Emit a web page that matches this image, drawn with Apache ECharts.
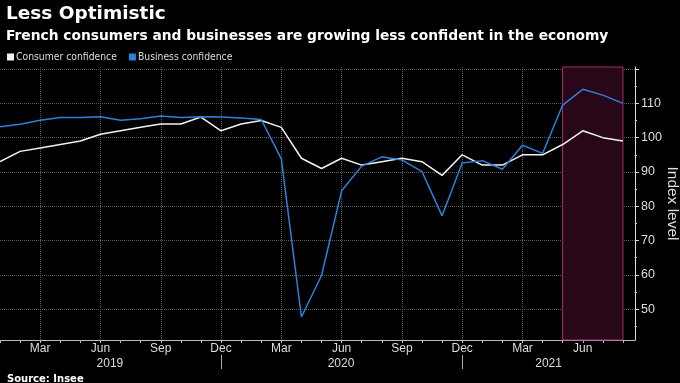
<!DOCTYPE html>
<html>
<head>
<meta charset="utf-8">
<script src="https://cdn.jsdelivr.net/npm/echarts@6/dist/echarts.min.js"></script>
<style>
html,body{margin:0;padding:0;background:#000;}
#chart{width:680px;height:383px;}
</style>
</head>
<body>
<div id="chart"></div>
<script>
// Monthly observations, Jan 2019 .. Aug 2021
var months = ['2019-01','2019-02','2019-03','2019-04','2019-05','2019-06','2019-07','2019-08','2019-09','2019-10','2019-11','2019-12',
              '2020-01','2020-02','2020-03','2020-04','2020-05','2020-06','2020-07','2020-08','2020-09','2020-10','2020-11','2020-12',
              '2021-01','2021-02','2021-03','2021-04','2021-05','2021-06','2021-07','2021-08'];
var consumer = [93,96,97,98,99,101,102,103,104,104,106,102,
                104,105,103,94,91,94,92,93,94,93,89,95,
                92,92,95,95,98,102,100,99];
var business = [103.2,103.9,105.1,105.9,105.9,106.1,105.1,105.5,106.3,105.9,106.1,106.0,
                105.7,105.3,93.8,47.7,59.8,84.5,91.7,94.4,93.5,90.1,77.2,92.6,
                93.3,90.8,97.8,95.4,109.5,114.1,112.4,110.0];
var seriesNames = ['Consumer confidence','Business confidence'];
var highlight = ['2021-05','2021-08'];
var monthNames = ['Jan','Feb','Mar','Apr','May','Jun','Jul','Aug','Sep','Oct','Nov','Dec'];
var quarterMonths = ['Mar','Jun','Sep','Dec'];
var yearLabels = ['2019','2020','2021'];
var yearLabelPos = [5.47, 16.97, 27.3];   // centre of each year's span (month index)
var yearBreaks = ['2019-12','2020-12'];
var yLabelTicks = [50,60,70,80,90,100,110];
var yMajorTicks = [50,60,70,80,90,100,110,120];
var yMinorTicks = [45,55,65,75,85,95,105,115];

function idx(m){ return months.indexOf(m); }
var allIdx = months.map(function(m,i){return i;});
var quarterIdx = allIdx.filter(function(i){ return quarterMonths.indexOf(monthNames[+months[i].slice(5)-1]) >= 0; });
var consumerData = consumer.map(function(v,i){return [i,v];});
var businessData = business.map(function(v,i){return [i,v];});

var FONT = 'Liberation Sans';
var NARROW = "'DejaVu Sans Condensed', 'Liberation Sans'";
var X_MIN = 0, X_MAX = 31.6, Y_MIN = 41, Y_MAX = 120.6;

var chart = echarts.init(document.getElementById('chart'));
chart.setOption({
  backgroundColor: '#000',
  animation: false,
  title: [
    {text: 'Less Optimistic', left: 1, top: 0,
     textStyle: {color: '#fff', fontSize: 18.5, fontWeight: 'bold', fontFamily: 'DejaVu Sans'}},
    {text: 'French consumers and businesses are growing less confident in the economy', left: 1, top: 24,
     textStyle: {color: '#fff', fontSize: 13.8, fontWeight: 'bold', fontFamily: 'DejaVu Sans'}},
    {text: 'Source: Insee', left: 2, top: 369,
     textStyle: {color: '#fff', fontSize: 10, fontWeight: 'bold', fontFamily: 'DejaVu Sans'}}
  ],
  legend: {
    left: 2, top: 47, itemWidth: 7, itemHeight: 7, itemGap: 12, icon: 'rect',
    textStyle: {color: '#ddd', fontSize: 10.3, fontFamily: NARROW, padding: [0,0,0,-3]},
    data: seriesNames
  },
  grid: {left: 0, right: 45, top: 67, bottom: 43, containLabel: false, outerBoundsMode: 'none'},
  xAxis: [
    {type: 'value', min: X_MIN, max: X_MAX, position: 'bottom',
     axisLine: {onZero: false, lineStyle: {color: '#bbb', width: 1}},
     axisTick: {customValues: allIdx, length: 3, lineStyle: {color: '#bbb'}},
     axisLabel: {customValues: quarterIdx, color: '#ddd', fontSize: 12, fontFamily: FONT, margin: 3,
       formatter: function(v){ return monthNames[+months[Math.round(v)].slice(5)-1]; }},
     splitLine: {show: false}},
    {type: 'value', min: X_MIN, max: X_MAX, position: 'bottom',
     axisLine: {show: false, onZero: false},
     axisTick: {show: false, customValues: quarterIdx},
     axisLabel: {show: false},
     splitLine: {show: true, lineStyle: {color: '#5a5a5a', type: 'dotted', width: 1}}},
    {type: 'value', min: X_MIN, max: X_MAX, position: 'bottom', offset: 15,
     axisLine: {show: false, onZero: false},
     axisTick: {show: true, customValues: yearBreaks.map(idx), length: 14, lineStyle: {color: '#aaa'}},
     axisLabel: {customValues: yearLabelPos, color: '#ddd', fontSize: 12, fontFamily: FONT, margin: 2.5,
       formatter: function(v){ return yearLabels[yearLabelPos.indexOf(v)]; }},
     splitLine: {show: false}}
  ],
  yAxis: [
    {type: 'value', min: Y_MIN, max: Y_MAX, position: 'right',
     name: 'Index level', nameLocation: 'middle', nameRotate: -90, nameGap: 29, nameMoveOverlap: false,
     nameTextStyle: {color: '#ddd', fontSize: 15.5, fontFamily: FONT},
     axisLine: {show: true, onZero: false, lineStyle: {color: '#ddd'}},
     axisTick: {show: true, customValues: yMajorTicks, length: 4, lineStyle: {color: '#ddd'}},
     axisLabel: {customValues: yLabelTicks, color: '#ddd', fontSize: 12.5, fontFamily: FONT, margin: 6},
     splitLine: {show: true, lineStyle: {color: '#5a5a5a', type: 'dotted', width: 1}}},
    {type: 'value', min: Y_MIN, max: Y_MAX, position: 'right',
     axisLine: {show: false, onZero: false},
     axisTick: {show: true, customValues: yMinorTicks, length: 2, lineStyle: {color: '#ddd'}},
     axisLabel: {show: false},
     splitLine: {show: false}}
  ],
  series: [
    {name: seriesNames[0], type: 'line', data: consumerData, xAxisIndex: 0, yAxisIndex: 0,
     showSymbol: false, symbol: 'none', z: 3,
     itemStyle: {color: '#f2f2f2'}, lineStyle: {color: '#f2f2f2', width: 1.5},
     markArea: {silent: true,
       itemStyle: {color: '#280818', borderColor: '#a8306e', borderWidth: 1},
       data: [[{xAxis: idx(highlight[0])}, {xAxis: idx(highlight[1])}]]}},
    {name: seriesNames[1], type: 'line', data: businessData, xAxisIndex: 0, yAxisIndex: 0,
     showSymbol: false, symbol: 'none', z: 4,
     itemStyle: {color: '#2d80dc'}, lineStyle: {color: '#2d80dc', width: 1.5}}
  ]
});
</script>
</body>
</html>
